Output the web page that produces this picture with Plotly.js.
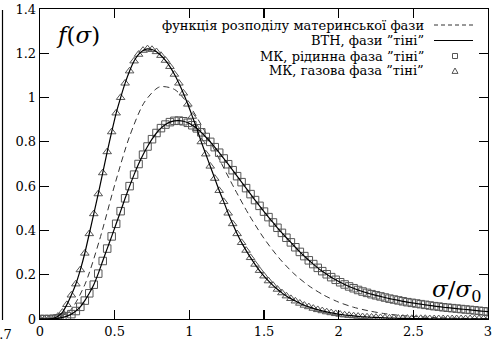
<!DOCTYPE html>
<html>
<head>
<meta charset="utf-8">
<script src="https://cdn.plot.ly/plotly-3.0.1.min.js"></script>
<style>html,body{margin:0;padding:0;background:#fff;}#chart{width:501px;height:347px;}</style>
</head>
<body>
<div id="chart"></div>
<script>
// Sample grid (σ/σ0) for Monte Carlo points and theory curves
const sigmaGrid = [0,0.03,0.06,0.09,0.12,0.15,0.18,0.21,0.24,0.27,0.30,0.33,0.36,0.39,0.42,0.45,0.48,0.51,0.54,0.57,
  0.60,0.63,0.66,0.69,0.72,0.75,0.78,0.81,0.84,0.87,0.90,0.93,0.96,0.99,1.02,1.05,1.08,1.11,1.14,1.17,
  1.20,1.23,1.26,1.29,1.32,1.35,1.38,1.41,1.44,1.47,1.50,1.53,1.56,1.59,1.62,1.65,1.68,1.71,1.74,1.77,
  1.80,1.83,1.86,1.89,1.92,1.95,1.98,2.01,2.04,2.07,2.10,2.13,2.16,2.19,2.22,2.25,2.28,2.31,2.34,2.37,
  2.40,2.43,2.46,2.49,2.52,2.55,2.58,2.61,2.64,2.67,2.70,2.73,2.76,2.79,2.82,2.85,2.88,2.91,2.94,2.97,3.00];

// MK, gas phase of "shadow" (triangles) and its BTH curve
const gasShadow = [0,0,0.001,0.003,0.012,0.03,0.065,0.108,0.158,0.222,0.297,0.385,0.475,0.565,0.66,0.755,0.845,0.93,1.0,1.065,
  1.12,1.165,1.195,1.213,1.22,1.217,1.207,1.19,1.168,1.14,1.105,1.065,1.02,0.97,0.915,0.86,0.8,0.745,0.69,0.635,
  0.58,0.53,0.478,0.43,0.385,0.345,0.31,0.277,0.247,0.219,0.194,0.172,0.152,0.134,0.118,0.104,0.092,0.081,0.071,0.062,
  0.055,0.048,0.042,0.037,0.032,0.028,0.024,0.021,0.018,0.016,0.014,0.012,0.01,0.009,0.008,0.007,0.006,0.005,0.004,0.004,
  0.003,0.003,0.003,0.002,0.002,0.002,0.002,0.001,0.001,0.001,0.001,0.001,0.001,0.001,0.001,0.001,0.001,0.001,0.001,0.001,0.001];

// MK, liquid phase of "shadow" (squares) and its BTH curve
const liquidShadow = [0,0,0,0.001,0.003,0.007,0.013,0.022,0.036,0.055,0.083,0.116,0.155,0.205,0.262,0.318,0.373,0.43,0.487,0.545,
  0.6,0.652,0.7,0.742,0.779,0.812,0.84,0.862,0.878,0.889,0.895,0.896,0.893,0.886,0.875,0.861,0.843,0.822,0.8,0.776,
  0.751,0.725,0.699,0.672,0.645,0.618,0.591,0.564,0.537,0.511,0.485,0.46,0.436,0.412,0.389,0.367,0.346,0.324,0.303,0.284,
  0.265,0.248,0.231,0.216,0.202,0.189,0.177,0.166,0.156,0.147,0.139,0.131,0.124,0.118,0.112,0.107,0.102,0.097,0.092,0.088,
  0.084,0.08,0.076,0.073,0.07,0.067,0.064,0.061,0.058,0.056,0.053,0.051,0.049,0.047,0.045,0.043,0.041,0.039,0.037,0.035,0.033];

// Mother phase distribution (dashed)
const motherX = [0,0.1,0.2,0.3,0.4,0.5,0.6,0.7,0.8,0.9,1.0,1.1,1.2,1.3,1.4,1.5,1.6,1.7,1.8,1.9,2.0,2.1,2.2,2.3,2.4,2.5,2.6,2.7,2.8,2.9,3.0];
const motherY = [0,0.002,0.037,0.155,0.36,0.605,0.825,0.98,1.048,1.037,0.964,0.852,0.722,0.592,0.47,0.364,0.276,0.205,0.15,0.108,
  0.076,0.053,0.037,0.025,0.017,0.0115,0.0078,0.0052,0.0034,0.0022,0.0014];

const xTicks = [0,0.5,1,1.5,2,2.5,3];
const xTickText = ['0','0.5','1','1.5','2','2.5','3'];
const yTicks = [0,0.2,0.4,0.6,0.8,1,1.2,1.4];
const yTickText = ['0','0.2','0.4','0.6','0.8','1','1.2','1.4'];

const legendLabels = ['функція розподілу материнської фази','ВТН, фази ”тіні”','МК, рідинна фаза ”тіні”','МК, газова фаза ”тіні”'];

const serif = 'DejaVu Serif';

const traces = [
  {x: motherX, y: motherY, mode:'lines', line:{color:'#333', width:1, dash:'6px,4px', shape:'spline', smoothing:0.8}, hoverinfo:'skip'},
  {x: sigmaGrid, y: liquidShadow, mode:'markers', marker:{symbol:'square-open', size:7.5, color:'#555', line:{width:1, color:'#555'}}},
  {x: sigmaGrid, y: gasShadow, mode:'markers', marker:{symbol:'triangle-up-open', size:7.5, color:'#555', line:{width:1, color:'#555'}}},
  {x: sigmaGrid, y: liquidShadow, mode:'lines', line:{color:'#000', width:1.2, shape:'spline', smoothing:0.5}},
  {x: sigmaGrid, y: gasShadow, mode:'lines', line:{color:'#000', width:1.2, shape:'spline', smoothing:0.5}}
];

// plot area pixel geometry helpers for legend placement
const L = 40, R = 13, T = 9, B = 28, W = 501, H = 347;
const pw = W - L - R, ph = H - T - B;
const px = p => (p - L) / pw;
const py = p => 1 - (p - T) / ph;

const rowsY = [25, 40.5, 56, 71];
const annotations = legendLabels.map((t, i) => ({
  text: t, xref:'paper', yref:'paper', x: px(426), y: py(rowsY[i]), xanchor:'right', yanchor:'middle',
  showarrow:false, font:{family: serif, size:13, color:'#000'}
}));
annotations.push({text:'<i>f</i>(<i>σ</i>)', xref:'paper', yref:'paper', x: px(78), y: py(35), xanchor:'center', yanchor:'middle',
  showarrow:false, font:{family: serif, size:23, color:'#000'}});
annotations.push({text:'<i>σ</i>/<i>σ</i><sub>0</sub>', xref:'paper', yref:'paper', x: px(456), y: py(291), xanchor:'center', yanchor:'middle',
  showarrow:false, font:{family: serif, size:23, color:'#000'}});
annotations.push({text:'0.7', xref:'paper', yref:'paper', x: px(14), y: py(334), xanchor:'right', yanchor:'middle',
  showarrow:false, font:{family: serif, size:13, color:'#000'}});

const sq = 2.5, tri = 3;
const shapes = [
  {type:'line', xref:'paper', yref:'paper', x0: px(434), x1: px(473), y0: py(rowsY[0]), y1: py(rowsY[0]), line:{color:'#333', width:1, dash:'4px,3px'}},
  {type:'line', xref:'paper', yref:'paper', x0: px(434), x1: px(473), y0: py(rowsY[1]), y1: py(rowsY[1]), line:{color:'#000', width:1.2}},
  {type:'rect', xref:'paper', yref:'paper', x0: px(455-sq), x1: px(455+sq), y0: py(rowsY[2]+sq), y1: py(rowsY[2]-sq), line:{color:'#555', width:1}},
  {type:'path', xref:'paper', yref:'paper', path: 'M '+px(455-tri)+' '+py(rowsY[3]+tri*0.8)+' L '+px(455+tri)+' '+py(rowsY[3]+tri*0.8)+' L '+px(455)+' '+py(rowsY[3]-tri)+' Z', line:{color:'#555', width:1}},
  // neighbouring panel border at far left
  {type:'line', xref:'paper', yref:'paper', x0: px(2.5), x1: px(2.5), y0: py(10), y1: py(320), line:{color:'#000', width:1.2}}
];

const axisCommon = {showline:true, linecolor:'#000', linewidth:1.3, mirror:'ticks', ticks:'inside', ticklen:9, tickwidth:1.2,
  tickcolor:'#000', showgrid:false, zeroline:false, tickfont:{family: serif, size:13, color:'#000'}};

const layout = {
  width: W, height: H, margin:{l:L, r:R, t:T, b:B, pad:0},
  paper_bgcolor:'#fff', plot_bgcolor:'#fff', showlegend:false,
  font:{family: serif, size:13, color:'#000'},
  xaxis: Object.assign({}, axisCommon, {range:[0,3], tickmode:'array', tickvals:xTicks, ticktext:xTickText}),
  yaxis: Object.assign({}, axisCommon, {range:[0,1.4], tickmode:'array', tickvals:yTicks, ticktext:yTickText}),
  annotations: annotations, shapes: shapes
};

Plotly.newPlot('chart', traces, layout, {staticPlot:true, displayModeBar:false});
</script>
</body>
</html>
